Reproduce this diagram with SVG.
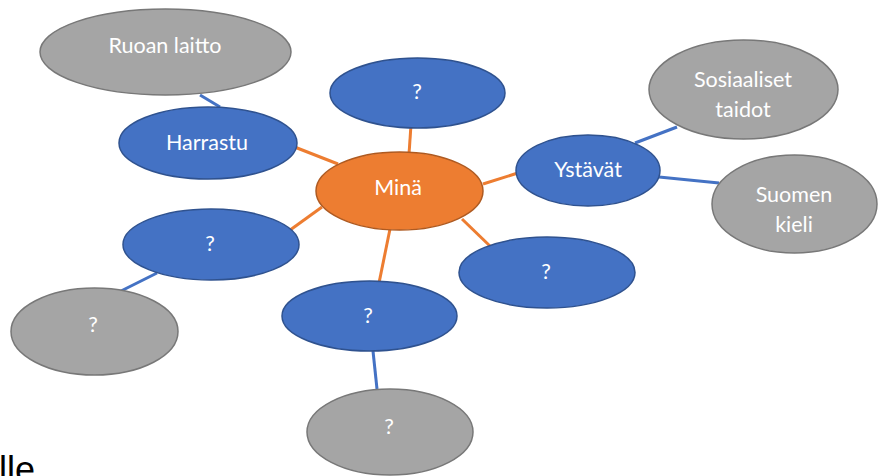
<svg xmlns="http://www.w3.org/2000/svg" width="884" height="476" viewBox="0 0 884 476">
<style>
.blue{fill:#4472C4;stroke:#2F528F;stroke-width:1.5}
.orange{fill:#ED7D31;stroke:#AE5A21;stroke-width:1.5}
.gray{fill:#A5A5A5;stroke:#787878;stroke-width:1.5}
.t{font-family:Lato,"Open Sans","Liberation Sans",sans-serif;font-size:21.5px;fill:#FFFFFF;text-anchor:middle}
.co{stroke:#ED7D31;stroke-width:3;fill:none}
.cb{stroke:#4472C4;stroke-width:3;fill:none}
</style>
<rect width="884" height="476" fill="#FFFFFF"/>
<g id="connectors">
<line class="cb" x1="200" y1="95" x2="220" y2="107"/>
<line class="co" x1="292" y1="146" x2="338" y2="164"/>
<line class="co" x1="411" y1="125" x2="409" y2="154"/>
<line class="co" x1="322" y1="207" x2="286" y2="233"/>
<line class="co" x1="483" y1="184" x2="521" y2="172"/>
<line class="co" x1="462" y1="219" x2="491" y2="247"/>
<line class="co" x1="390" y1="229" x2="379" y2="283"/>
<line class="cb" x1="635" y1="143" x2="677" y2="127"/>
<line class="cb" x1="659" y1="177" x2="719" y2="183"/>
<line class="cb" x1="157" y1="273" x2="119" y2="292"/>
<line class="cb" x1="373" y1="351" x2="377" y2="389"/>
</g>
<g id="ruoan-laitto">
<ellipse class="gray" cx="165.5" cy="52" rx="125.5" ry="43"/>
<text class="t" x="165" y="53">Ruoan laitto</text>
</g>
<g id="harrastu">
<ellipse class="blue" cx="208" cy="143" rx="89" ry="36"/>
<text class="t" x="207" y="150">Harrastu</text>
</g>
<g id="top-q">
<ellipse class="blue" cx="417.5" cy="93" rx="87.5" ry="35"/>
<text class="t" x="417" y="99">?</text>
</g>
<g id="mina">
<ellipse class="orange" cx="399.5" cy="191" rx="83.5" ry="39"/>
<text class="t" x="398" y="195">Minä</text>
</g>
<g id="ystavat">
<ellipse class="blue" cx="588" cy="170.5" rx="72" ry="35.5"/>
<text class="t" x="588" y="177">Ystävät</text>
</g>
<g id="sosiaaliset-taidot">
<ellipse class="gray" cx="743.5" cy="89.5" rx="94.5" ry="49.5"/>
<text class="t" x="743" y="87">Sosiaaliset</text>
<text class="t" x="743" y="117">taidot</text>
</g>
<g id="suomen-kieli">
<ellipse class="gray" cx="794.5" cy="204" rx="82.5" ry="49"/>
<text class="t" x="794" y="202">Suomen</text>
<text class="t" x="794" y="232">kieli</text>
</g>
<g id="right-q">
<ellipse class="blue" cx="547" cy="272.5" rx="88" ry="35.5"/>
<text class="t" x="546" y="279">?</text>
</g>
<g id="left-q">
<ellipse class="blue" cx="211" cy="244.5" rx="88" ry="35.5"/>
<text class="t" x="210" y="251">?</text>
</g>
<g id="bottom-left-q">
<ellipse class="gray" cx="94.5" cy="331.5" rx="83.5" ry="43.5"/>
<text class="t" x="93" y="332">?</text>
</g>
<g id="bottom-q">
<ellipse class="blue" cx="369.5" cy="316" rx="87.5" ry="35"/>
<text class="t" x="368" y="323">?</text>
</g>
<g id="bottom-gray-q">
<ellipse class="gray" cx="390" cy="432" rx="83" ry="43"/>
<text class="t" x="389" y="434">?</text>
</g>
<text x="-1" y="482" font-family="Liberation Sans, Arial, sans-serif" font-size="36" fill="#000000">lle</text>
</svg>
